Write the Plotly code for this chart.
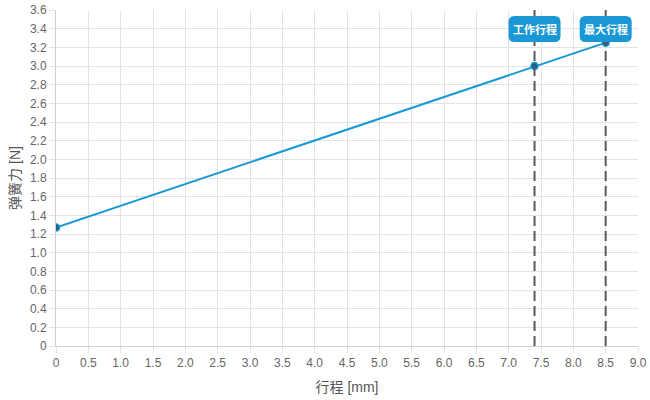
import plotly.graph_objects as go

stroke_mm = [0, 7.4, 8.5]
force_n = [1.27, 3.0, 3.25]
marker_x = [7.4, 8.5]
marker_labels = ["工作行程", "最大行程"]

x_tickvals = [i * 0.5 for i in range(19)]
x_ticktext = ["0", "0.5", "1.0", "1.5", "2.0", "2.5", "3.0", "3.5", "4.0", "4.5",
              "5.0", "5.5", "6.0", "6.5", "7.0", "7.5", "8.0", "8.5", "9.0"]
y_tickvals = [round(i * 0.2, 1) for i in range(19)]
y_ticktext = ["0"] + [f"{v:.1f}" for v in y_tickvals[1:]]

BLUE = "#1a98d5"
GRID = "#e3e3e3"
FONT = "Liberation Sans, Arial, Noto Sans CJK SC, sans-serif"

fig = go.Figure()

for xv in marker_x:
    fig.add_shape(type="line", x0=xv, x1=xv, y0=0, y1=1, yref="paper", xref="x",
                  line=dict(color="#5a5a5a", width=2, dash="10px,5px"), layer="above")

fig.add_trace(go.Scatter(
    x=stroke_mm, y=force_n, mode="lines+markers",
    line=dict(color=BLUE, width=2),
    marker=dict(size=7, color="#1d5f8e", line=dict(color=BLUE, width=1.5)),
    showlegend=False, hoverinfo="skip",
))

def rounded_path(w, h, r, cy):
    x0, x1 = -w / 2, w / 2
    y0, y1 = cy - h / 2, cy + h / 2
    return (f"M {x0+r},{y0} L {x1-r},{y0} Q {x1},{y0} {x1},{y0+r} "
            f"L {x1},{y1-r} Q {x1},{y1} {x1-r},{y1} L {x0+r},{y1} "
            f"Q {x0},{y1} {x0},{y1-r} L {x0},{y0+r} Q {x0},{y0} {x0+r},{y0} Z")

for xv, lab in zip(marker_x, marker_labels):
    fig.add_shape(type="path", xref="x", yref="paper", xsizemode="pixel", ysizemode="pixel",
                  xanchor=xv, yanchor=1, path=rounded_path(52, 26, 6, -19),
                  fillcolor=BLUE, line=dict(width=0), layer="above")
    fig.add_annotation(x=xv, y=1, xref="x", yref="paper", text=f"<b>{lab}</b>",
                       xanchor="center", yanchor="middle",
                       showarrow=False, font=dict(color="white", size=11, family="Noto Sans CJK SC"),
                       yshift=-19)

fig.update_layout(
    width=650, height=400,
    margin=dict(l=56, r=12, t=10, b=54, autoexpand=False),
    plot_bgcolor="white", paper_bgcolor="white",
    font=dict(family=FONT, size=12, color="#666666"),
)
fig.update_xaxes(range=[0, 9], tickvals=x_tickvals, ticktext=x_ticktext,
                 showgrid=True, gridcolor=GRID, gridwidth=1,
                 ticks="outside", ticklen=6, tickcolor=GRID,
                 showline=True, linecolor="#cfcfcf", linewidth=1,
                 zeroline=False,
                 title=dict(text="行程 [mm]", font=dict(size=14, color="#555555"), standoff=12))
fig.update_yaxes(range=[0, 3.6], tickvals=y_tickvals, ticktext=y_ticktext,
                 showgrid=True, gridcolor=GRID, gridwidth=1,
                 ticks="outside", ticklen=6, tickcolor=GRID,
                 showline=True, linecolor="#cfcfcf", linewidth=1,
                 zeroline=False,
                 title=dict(text="弹簧力 [N]", font=dict(size=14, color="#555555"), standoff=6))

fig.write_html("out.html", config={"displayModeBar": False},
               post_script="document.body.style.margin='0';document.body.style.padding='0';")
